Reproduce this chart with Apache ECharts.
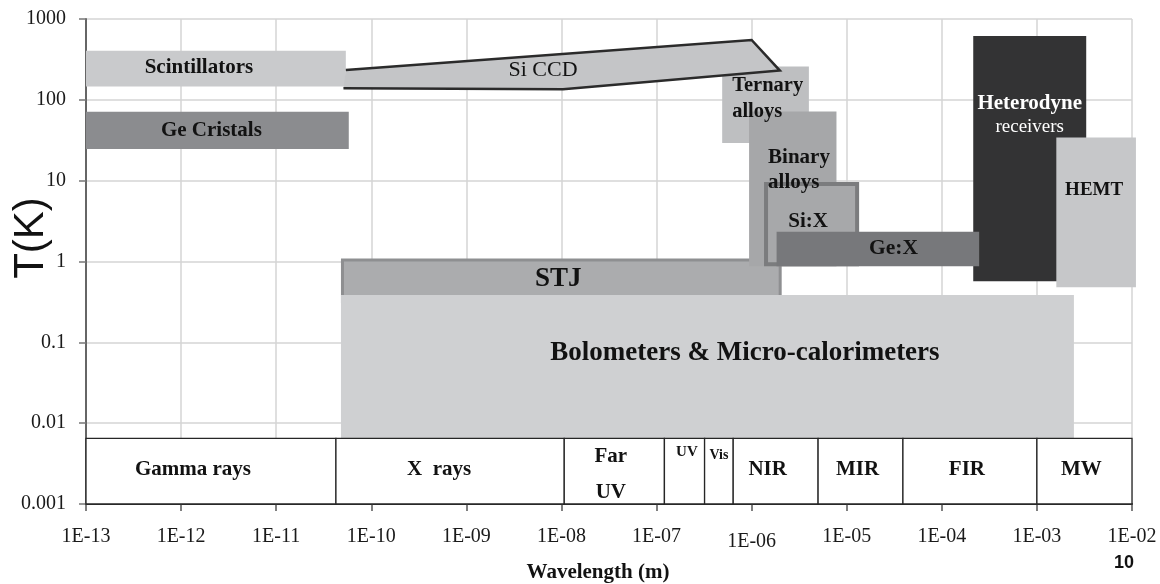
<!DOCTYPE html>
<html>
<head>
<meta charset="utf-8">
<title>Detector technologies: wavelength vs operating temperature</title>
<script src="https://cdn.jsdelivr.net/npm/echarts@6/dist/echarts.min.js"></script>
<style>
  html, body { margin: 0; padding: 0; background: #fff; }
  #chart { width: 1160px; height: 584px; }
</style>
</head>
<body>
<div id="chart"></div>
<script>
// ---- Data -------------------------------------------------------------
// Detector families: wavelength coverage [m] and operating temperature [K]
const detectorNames = [
  'Scintillators', 'Ge Cristals', 'STJ', 'Ternary alloys', 'Binary alloys',
  'Si:X', 'Heterodyne receivers', 'Ge:X', 'HEMT', 'Bolometers & Micro-calorimeters'
];
const detectorLabels = [
  'Scintillators', 'Ge Cristals', 'STJ', 'Ternary\nalloys', 'Binary\nalloys',
  'Si:X', 'Heterodyne\nreceivers', 'Ge:X', 'HEMT', 'Bolometers & Micro-calorimeters'
];
const lambdaMin = [1e-13, 1e-13, 4.8e-11, 4.9e-7, 9.4e-7, 1.35e-6, 2.14e-4, 1.83e-6, 1.6e-3, 4.8e-11];
const lambdaMax = [5.4e-11, 5.8e-11, 2.07e-6, 4.0e-6, 7.8e-6, 1.35e-5, 3.3e-3, 2.47e-4, 1.1e-2, 2.45e-3];
const tempMin   = [146, 24.6, 0.3, 29.2, 0.875, 0.875, 0.57, 0.875, 0.48, 0.006];
const tempMax   = [406, 71, 1.09, 258, 71.7, 9.64, 617, 2.33, 34.3, 0.384];

// Si CCD outline (vertices, wavelength [m] / temperature [K])
const siCcdLambda = [5.1e-11, 5.4e-11, 1.0e-6, 1.98e-6, 1.04e-8];
const siCcdTemp   = [139, 234, 551, 230, 135];

// Electromagnetic spectrum bands along the bottom
const bandNames = ['Gamma rays', 'X  rays', 'Far\nUV', 'UV', 'Vis', 'NIR', 'MIR', 'FIR', 'MW'];
const bandEdges = [1e-13, 4.25e-11, 1.07e-8, 1.21e-7, 3.2e-7, 6.4e-7, 5.0e-6, 3.9e-5, 1.0e-3, 1e-2];
const bandTemp  = [0.001, 0.00648];

// Axis tick labels (one per decade)
const wavelengthTicks = ['1E-13', '1E-12', '1E-11', '1E-10', '1E-09', '1E-08',
                         '1E-07', '1E-06', '1E-05', '1E-04', '1E-03', '1E-02'];
const temperatureTicks = ['0.001', '0.01', '0.1', '1', '10', '100', '1000'];

// ---- Styles -----------------------------------------------------------
const SERIF = '"Liberation Serif", "Times New Roman", serif';
const SANS = '"Liberation Sans", Arial, sans-serif';
const INK = '#121212';

const boxStyle = {
  'Scintillators':                   { fill: '#c9cacc' },
  'Ge Cristals':                     { fill: '#8b8c8f' },
  'STJ':                             { fill: '#abacae', stroke: '#8e8f91', lineWidth: 3 },
  'Ternary alloys':                  { fill: '#bebfc1' },
  'Binary alloys':                   { fill: '#a6a7a9' },
  'Si:X':                            { fill: '#a7a8aa', stroke: '#7b7c7e', lineWidth: 4 },
  'Heterodyne receivers':            { fill: '#333334' },
  'Ge:X':                            { fill: '#77787b' },
  'HEMT':                            { fill: '#c6c7c9' },
  'Bolometers & Micro-calorimeters': { fill: '#cfd0d2' }
};

// label placement: pixel offset from the box centre (or from its left edge)
const labelStyle = {
  'Scintillators':                   { dx: -17, dy: -1.5, size: 21 },
  'Ge Cristals':                     { dx: -6, dy: 0, size: 21 },
  'STJ':                             { dx: -3, dy: -2, size: 27 },
  'Ternary alloys':                  { fromLeft: true, dx: 10, dy: -6, size: 20.5, lineHeight: 25.7 },
  'Binary alloys':                   { fromLeft: true, dx: 19, dy: -18.4, size: 21, lineHeight: 25 },
  'Si:X':                            { dx: -3.4, dy: -2.8, size: 21 },
  'Heterodyne receivers':            { dx: 0, dy: -43, size: 21, color: '#ffffff', twoWeights: true },
  'Ge:X':                            { dx: 15.7, dy: -1, size: 21.5 },
  'HEMT':                            { dx: -2, dy: -22, size: 19 },
  'Bolometers & Micro-calorimeters': { dx: 37.5, dy: -15.4, size: 27 }
};
const siCcdLabel = { text: 'Si CCD', dx: -18.6, dy: 6, size: 22 };

const bandLabelStyle = [
  { dx: -18, dy: -2, size: 21 },
  { dx: -11, dy: -2, size: 21 },
  { dx: -3.5, dy: 3.3, size: 21, lineHeight: 36 },
  { dx: 2.4, top: 13.4, size: 15 },
  { dx: 0, top: 16.7, size: 14 },
  { dx: -8, dy: -2, size: 21 },
  { dx: -3, dy: -2, size: 21 },
  { dx: -3, dy: -2, size: 21 },
  { dx: -3, dy: -2, size: 21 }
];

// ---- Rendering helpers ------------------------------------------------
// Both axes are laid out in decades (log10 of the physical value).
const lg = Math.log10;

function boxCorners(api) {
  const tl = api.coord([api.value(0), api.value(3)]);
  const br = api.coord([api.value(1), api.value(2)]);
  return { x0: tl[0], y0: tl[1], x1: br[0], y1: br[1] };
}

function renderDetectorBox(params, api) {
  const st = boxStyle[detectorNames[api.value(4)]];
  const c = boxCorners(api);
  const lw = st.lineWidth || 0;
  return {
    type: 'rect',
    shape: { x: c.x0 + lw / 2, y: c.y0 + lw / 2, width: c.x1 - c.x0 - lw, height: c.y1 - c.y0 - lw },
    style: { fill: st.fill, stroke: lw ? st.stroke : null, lineWidth: lw }
  };
}

function renderDetectorLabel(params, api) {
  const i = api.value(4);
  const st = labelStyle[detectorNames[i]];
  const c = boxCorners(api);
  const cx = st.fromLeft ? c.x0 + st.dx : (c.x0 + c.x1) / 2 + st.dx;
  const cy = (c.y0 + c.y1) / 2 + st.dy;
  const style = {
    text: detectorLabels[i],
    fill: st.color || INK,
    fontFamily: SERIF,
    fontWeight: 'bold',
    fontSize: st.size,
    lineHeight: st.lineHeight || st.size * 1.15,
    align: st.fromLeft ? 'left' : 'center',
    verticalAlign: 'middle'
  };
  if (st.twoWeights) {
    const parts = detectorLabels[i].split('\n');
    style.text = '{a|' + parts[0] + '}\n{b|' + parts[1] + '}';
    style.rich = {
      a: { fill: st.color, fontFamily: SERIF, fontWeight: 'bold', fontSize: st.size, lineHeight: 23.4 },
      b: { fill: st.color, fontFamily: SERIF, fontWeight: 'normal', fontSize: 19, lineHeight: 23.4 }
    };
  }
  return { type: 'text', x: cx, y: cy, style: style };
}

function renderSiCcd(params, api) {
  const pts = siCcdLambda.map((l, k) => api.coord([lg(l), lg(siCcdTemp[k])]));
  const xs = pts.map(p => p[0]);
  const ys = pts.map(p => p[1]);
  const cx = (Math.min(...xs) + Math.max(...xs)) / 2;
  const cy = (Math.min(...ys) + Math.max(...ys)) / 2;
  return {
    type: 'group',
    children: [
      { type: 'polygon', shape: { points: pts }, style: { fill: '#c4c5c7' } },
      { type: 'polyline', shape: { points: pts.slice(1).concat([pts[0]]) },
        style: { fill: null, stroke: '#2b2b2b', lineWidth: 2.5, lineJoin: 'miter' } },
      { type: 'text', x: cx + siCcdLabel.dx, y: cy + siCcdLabel.dy,
        style: { text: siCcdLabel.text, fill: INK, fontFamily: SERIF, fontSize: siCcdLabel.size,
                 align: 'center', verticalAlign: 'middle' } }
    ]
  };
}

function renderBand(params, api) {
  const i = api.value(4);
  const c = boxCorners(api);
  const st = bandLabelStyle[i];
  const cx = (c.x0 + c.x1) / 2 + st.dx;
  const label = st.top !== undefined
    ? { type: 'text', x: cx, y: c.y0 + st.top,
        style: { text: bandNames[i], fill: INK, fontFamily: SERIF, fontWeight: 'bold',
                 fontSize: st.size, align: 'center', verticalAlign: 'middle' } }
    : { type: 'text', x: cx, y: (c.y0 + c.y1) / 2 + st.dy,
        style: { text: bandNames[i], fill: INK, fontFamily: SERIF, fontWeight: 'bold',
                 fontSize: st.size, lineHeight: st.lineHeight || st.size * 1.15,
                 align: 'center', verticalAlign: 'middle' } };
  return {
    type: 'group',
    children: [
      { type: 'rect', shape: { x: c.x0, y: c.y0, width: c.x1 - c.x0, height: c.y1 - c.y0 },
        style: { fill: '#ffffff', stroke: '#262626', lineWidth: 1.3 } },
      label
    ]
  };
}

const boxData = idx => idx.map(i => [lg(lambdaMin[i]), lg(lambdaMax[i]), lg(tempMin[i]), lg(tempMax[i]), i]);
const underCcd = [0, 1, 2, 3];
const overCcd = [4, 5, 6, 7, 8, 9];
const allDetectors = detectorNames.map((_, i) => i);
const bandData = bandNames.map((_, i) =>
  [lg(bandEdges[i]), lg(bandEdges[i + 1]), lg(bandTemp[0]), lg(bandTemp[1]), i]);

const customBase = { type: 'custom', coordinateSystem: 'cartesian2d', clip: false,
                     encode: { x: [0, 1], y: [2, 3] }, silent: true };

// ---- Chart ------------------------------------------------------------
const chart = echarts.init(document.getElementById('chart'), null, { renderer: 'canvas' });

chart.setOption({
  animation: false,
  backgroundColor: '#ffffff',
  grid: { left: 86, right: 28, top: 19, bottom: 80, outerBoundsMode: 'none' },
  xAxis: {
    type: 'value', min: -13, max: -2, interval: 1,
    axisLine: { show: true, onZero: false, lineStyle: { color: '#333', width: 2 } },
    axisTick: { show: true, length: 7, lineStyle: { color: '#555', width: 1.5 } },
    axisLabel: {
      margin: 23, color: '#1a1a1a', fontFamily: SERIF, fontSize: 20,
      formatter: v => {
        const t = wavelengthTicks[Math.round(v) + 13] || '';
        return t === '1E-06' ? '{low|' + t + '}' : t;
      },
      rich: { low: { padding: [5, 0, 0, 0], fontFamily: SERIF, fontSize: 20, color: '#1a1a1a' } }
    },
    splitLine: { show: true, lineStyle: { color: '#d5d5d5', width: 1.5 } }
  },
  yAxis: {
    type: 'value', min: -3, max: 3, interval: 1,
    axisLine: { show: true, onZero: false, lineStyle: { color: '#666', width: 2 } },
    axisTick: { show: true, length: 7, lineStyle: { color: '#777', width: 1.5 } },
    axisLabel: {
      margin: 20, color: '#1a1a1a', fontFamily: SERIF, fontSize: 20,
      formatter: v => temperatureTicks[Math.round(v) + 3] || ''
    },
    splitLine: { show: true, lineStyle: { color: '#d5d5d5', width: 1.5 } }
  },
  graphic: [
    { type: 'text', x: 31, y: 238, rotation: Math.PI / 2,
      style: { text: 'T(K)', fill: INK, fontFamily: SANS, fontSize: 42,
               align: 'center', verticalAlign: 'middle' } },
    { type: 'text', x: 598, y: 573,
      style: { text: 'Wavelength (m)', fill: INK, fontFamily: SERIF, fontWeight: 'bold', fontSize: 21,
               align: 'center', verticalAlign: 'middle' } },
    { type: 'text', x: 1124, y: 563,
      style: { text: '10', fill: '#111', fontFamily: SANS, fontWeight: 'bold', fontSize: 18,
               align: 'center', verticalAlign: 'middle' } }
  ],
  series: [
    Object.assign({}, customBase, { name: 'boxes-lower', z: 2, data: boxData(underCcd), renderItem: renderDetectorBox }),
    Object.assign({}, customBase, { name: 'Si CCD', z: 3,
      data: [[lg(siCcdLambda[0]), lg(siCcdLambda[3]), lg(siCcdTemp[4]), lg(siCcdTemp[2]), 0]],
      renderItem: renderSiCcd }),
    Object.assign({}, customBase, { name: 'boxes-upper', z: 4, data: boxData(overCcd), renderItem: renderDetectorBox }),
    Object.assign({}, customBase, { name: 'spectrum', z: 5, data: bandData, renderItem: renderBand }),
    Object.assign({}, customBase, { name: 'labels', z: 6, data: boxData(allDetectors), renderItem: renderDetectorLabel })
  ]
});
</script>
</body>
</html>
